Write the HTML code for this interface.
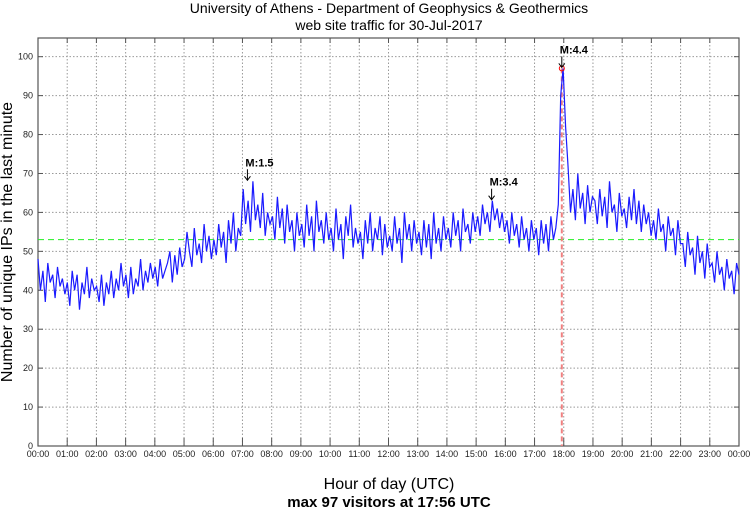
<!DOCTYPE html>
<html><head><meta charset="utf-8"><style>
body{margin:0;background:#fff;width:750px;height:511px;overflow:hidden;font-family:"Liberation Sans",sans-serif}
</style></head><body>
<svg width="750" height="511" id="chart" xmlns="http://www.w3.org/2000/svg" font-family="Liberation Sans, sans-serif">
<text x="389" y="13" text-anchor="middle" font-size="14">University of Athens - Department of Geophysics &amp; Geothermics</text>
<text x="389" y="30" text-anchor="middle" font-size="14">web site traffic for 30-Jul-2017</text>
<text transform="translate(12,242) rotate(-90)" text-anchor="middle" font-size="16">Number of unique IPs in the last minute</text>
<text x="389" y="489" text-anchor="middle" font-size="16">Hour of day (UTC)</text>
<text x="389" y="507" text-anchor="middle" font-size="15" font-weight="bold">max 97 visitors at 17:56 UTC</text>
<g id="grid"></g><g id="axes"></g><g id="series"></g><g id="marks"></g>
</svg>
<script>
const hours=["00:00","01:00","02:00","03:00","04:00","05:00","06:00","07:00","08:00","09:00","10:00","11:00","12:00","13:00","14:00","15:00","16:00","17:00","18:00","19:00","20:00","21:00","22:00","23:00","00:00"];
const yTicks=[0,10,20,30,40,50,60,70,80,90,100];
// 5-minute samples of unique IPs
const visits=[
48,40,45,37,47,42,44,38,46,41,43,39,
42,36,45,40,44,35,42,39,46,38,43,40,
41,37,44,36,42,39,45,38,43,40,47,41,
44,38,46,39,43,41,48,40,45,42,47,43,
46,41,48,43,45,47,50,42,49,44,51,46,
48,55,50,46,56,49,52,47,57,50,54,48,
53,49,57,51,55,47,58,52,60,50,56,54,
66,57,63,55,68,58,62,56,65,54,60,57,
59,53,64,56,61,52,62,55,58,50,60,54,
57,51,62,54,59,50,63,55,58,52,60,53,
56,50,61,53,57,48,59,54,62,51,56,52,
55,48,58,52,60,50,56,53,59,49,57,51,
54,50,59,52,56,47,60,53,57,50,58,52,
55,49,58,51,57,48,60,52,56,50,59,53,
56,51,60,54,58,50,61,55,57,52,60,55,
59,54,62,57,60,55,63,58,61,56,60,55,
58,52,60,54,57,51,59,53,56,50,58,53,
56,49,58,52,57,50,59,53,56,62,90,97,
82,72,60,66,58,70,61,65,57,67,60,64,
63,57,66,59,64,56,68,60,62,55,65,59,
61,56,64,58,66,57,63,55,62,57,60,54,
58,53,61,55,57,50,59,54,56,49,58,52,
52,46,55,49,51,44,54,47,50,43,52,46,
47,42,50,44,46,40,48,43,45,39,47,44
];
const meanValue=53;
const peakHour=17+56/60;
const annotations=[{label:"M:1.5",h:7.17,v:68},{label:"M:3.4",h:15.53,v:63},{label:"M:4.4",h:peakHour,v:97}];
const L=38,R=739,T=38,B=446,YMAX=104.8;
const xs=h=>L+(R-L)*h/24;
const ys=v=>B-(B-T)*v/YMAX;
const NS="http://www.w3.org/2000/svg";
function mk(tag,attrs,parent){const e=document.createElementNS(NS,tag);for(const k in attrs)e.setAttribute(k,attrs[k]);parent.appendChild(e);return e;}
const grid=document.getElementById('grid'),axes=document.getElementById('axes'),series=document.getElementById('series'),marks=document.getElementById('marks');
yTicks.forEach(v=>{
 if(v>0){const g=mk('line',{x1:L,x2:R,y1:ys(v),y2:ys(v),stroke:'#999','stroke-dasharray':'1.5,2','stroke-width':1},grid);
 
 }
 mk('line',{x1:L,x2:L+5,y1:ys(v),y2:ys(v),stroke:'#555'},axes);
 mk('line',{x1:R-5,x2:R,y1:ys(v),y2:ys(v),stroke:'#555'},axes);
 const t=mk('text',{x:L-5,y:ys(v)+3,'text-anchor':'end','font-size':9,fill:'#222'},axes);t.textContent=v;
 
 
});
hours.forEach((lab,i)=>{
 const x=xs(i);
 if(i>0&&i<24){const g=mk('line',{x1:x,x2:x,y1:T,y2:B,stroke:'#999','stroke-dasharray':'1.5,2'},grid);
 
 }
 mk('line',{x1:x,x2:x,y1:B-8,y2:B,stroke:'#555'},axes);
 mk('line',{x1:x,x2:x,y1:T,y2:T+5,stroke:'#555'},axes);
 const t=mk('text',{x:x,y:B+11,'text-anchor':'middle','font-size':9,fill:'#222'},axes);t.textContent=lab;
 
 
});
const fr=mk('rect',{x:L,y:T,width:R-L,height:B-T,fill:'none',stroke:'#555','stroke-width':1.2},axes);


const ml=mk('line',{x1:L,x2:R,y1:ys(meanValue),y2:ys(meanValue),stroke:'#22ee22','stroke-dasharray':'6,4','stroke-width':1},series);


const pv=mk('line',{x1:xs(peakHour),x2:xs(peakHour),y1:ys(97),y2:B,stroke:'#f08080','stroke-dasharray':'5,3','stroke-width':2},series);


const n=visits.length;
const pts=visits.map((v,i)=>{const h=(i===n-1)?24:i*24/(n-1);return xs(h).toFixed(1)+','+ys(v).toFixed(1);}).join(' ');
const pl=mk('polyline',{points:pts,fill:'none',stroke:'#1a1aff','stroke-width':1.2},series);


const pc=mk('circle',{cx:xs(peakHour),cy:ys(97),r:2.5,fill:'none',stroke:'red'},series);


annotations.forEach(a=>{
 const x=xs(a.h),y=ys(a.v);
 const g=mk('g',{},marks);
 
 
 mk('line',{x1:x,x2:x,y1:y-12,y2:y-1,stroke:'#000'},g);
 mk('path',{d:`M${x-3},${y-5} L${x},${y-1} L${x+3},${y-5}`,fill:'none',stroke:'#000'},g);
 const t=mk('text',{x:x-2,y:y-15,'font-size':11,'font-weight':'bold'},g);t.textContent=a.label;
});
</script>
</body></html>
